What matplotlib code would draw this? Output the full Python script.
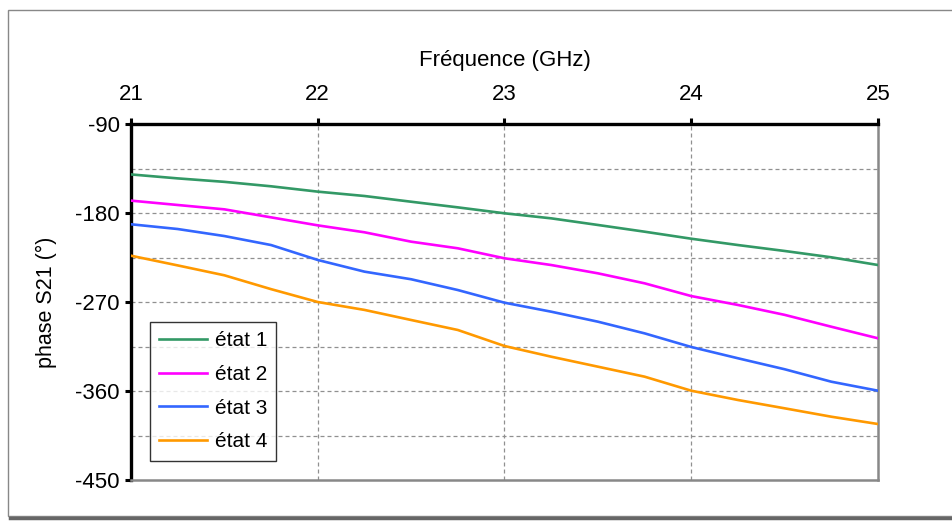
import matplotlib
matplotlib.use("Agg")
import matplotlib.pyplot as plt
from matplotlib.patches import Rectangle
from matplotlib.lines import Line2D

plt.rcParams['font.family'] = ['Liberation Sans', 'DejaVu Sans']

# Frequency axis (GHz)
freq = [21.0, 21.25, 21.5, 21.75, 22.0, 22.25, 22.5, 22.75, 23.0,
        23.25, 23.5, 23.75, 24.0, 24.25, 24.5, 24.75, 25.0]

# Phase of S21 (degrees) for each state
etat1 = [-141.0, -145.0, -148.5, -153.0, -158.4, -162.8, -168.6, -174.3, -180.3,
         -185.4, -192.1, -198.9, -206.0, -212.4, -218.4, -224.8, -232.6]
etat2 = [-167.5, -171.9, -176.3, -184.4, -192.5, -199.5, -209.0, -215.7, -225.8,
         -232.6, -241.0, -251.1, -264.0, -273.0, -283.0, -295.0, -306.7]
etat3 = [-191.4, -196.2, -203.3, -212.4, -227.5, -239.3, -247.0, -257.9, -270.7,
         -279.8, -289.9, -301.7, -315.5, -326.9, -338.0, -350.6, -359.7]
etat4 = [-223.2, -233.0, -243.0, -257.0, -270.0, -278.0, -288.2, -298.3, -314.5,
         -325.3, -335.4, -345.5, -359.7, -369.1, -377.5, -386.0, -393.4]

series_labels = ["état 1", "état 2", "état 3", "état 4"]
series_colors = ["#339966", "#FF00FF", "#3366FF", "#FF9900"]

x_ticks = [21, 22, 23, 24, 25]
y_ticks = [-90, -180, -270, -360, -450]
y_grid = [-135, -180, -225, -270, -315, -360, -405]

W, H = 953, 521
fig = plt.figure(figsize=(W / 100, H / 100), dpi=100)
fig.patch.set_facecolor("white")

# Outer chart-area frame with a drop shadow along the bottom
fig.add_artist(Rectangle((8 / W, 1 - 516 / H), (W - 8) / W, (516 - 10) / H,
                         transform=fig.transFigure, fill=False,
                         edgecolor="#888888", linewidth=1.0))
fig.add_artist(Line2D([10 / W, 1.0], [1 - 518 / H, 1 - 518 / H],
                      transform=fig.transFigure, color="#666666", linewidth=2.5))

left, right, top, bottom = 131, 878, 124, 480
ax = fig.add_axes([left / W, 1 - bottom / H, (right - left) / W, (bottom - top) / H])

for vals, lab, col in zip([etat1, etat2, etat3, etat4], series_labels, series_colors):
    ax.plot(freq, vals, color=col, linewidth=1.9, label=lab, zorder=3)

ax.set_xlim(21, 25)
ax.set_ylim(-450, -90)
ax.set_xticks(x_ticks)
ax.set_yticks(y_ticks)
ax.set_yticklabels([str(v) for v in y_ticks])

# Dashed grid
for g in y_grid:
    ax.axhline(g, color="#909090", linestyle=(0, (3.2, 2.4)), linewidth=0.9, zorder=1)
for g in x_ticks[1:-1]:
    ax.axvline(g, color="#909090", linestyle=(0, (3.2, 2.4)), linewidth=0.9, zorder=1)

# X axis on top
ax.xaxis.tick_top()
ax.xaxis.set_label_position("top")
ax.set_xlabel("Fréquence (GHz)", fontsize=16, labelpad=13)
ax.set_ylabel("phase S21 (°)", fontsize=15.5, labelpad=13)
ax.tick_params(axis="both", which="major", labelsize=16, direction="out",
               length=4, width=2.2, color="black")
ax.tick_params(axis="x", pad=10)
ax.tick_params(axis="y", pad=4)

for side in ("top", "left"):
    ax.spines[side].set_color("black")
    ax.spines[side].set_linewidth(2.4)
for side in ("right", "bottom"):
    ax.spines[side].set_color("#888888")
    ax.spines[side].set_linewidth(1.8)

leg = ax.legend(loc="upper left",
                bbox_to_anchor=((150 - left) / (right - left), (bottom - 322) / (bottom - top)),
                borderaxespad=0, fontsize=15, frameon=True, fancybox=False,
                edgecolor="black", handlelength=2.3, handletextpad=0.35,
                labelspacing=0.7, borderpad=0.45)
leg.get_frame().set_linewidth(1.0)

fig.savefig("out.png", dpi=100, facecolor="white")
